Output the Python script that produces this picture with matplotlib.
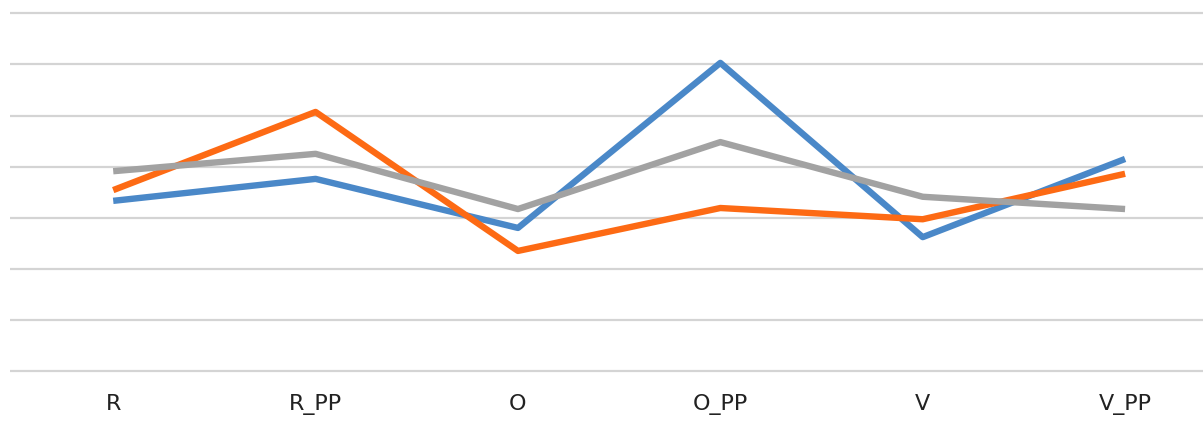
import numpy as np
import matplotlib.pyplot as plt

categories = ['R', 'R_PP', 'O', 'O_PP', 'V', 'V_PP']
blueVals = np.array([3.33, 3.76, 2.80, 6.03, 2.62, 4.15])
orangeVals = np.array([3.54, 5.07, 2.35, 3.19, 2.97, 3.86])
grayVals = np.array([3.91, 4.25, 3.17, 4.48, 3.41, 3.17])
gridLevels = np.arange(0, 8)

fig = plt.figure(figsize=(12.03, 4.21), dpi=100)
ax = fig.add_axes([10 / 1203, 0.1066, 1 - 10 / 1203, 0.9805 - 0.1066])

x = np.arange(len(categories))
ax.plot(x, blueVals, color='#4a88c8', lw=4.6, solid_capstyle='butt', zorder=3)
ax.plot(x, orangeVals, color='#fd6a14', lw=4.6, solid_capstyle='butt', zorder=3)
ax.plot(x, grayVals, color='#a2a2a2', lw=4.6, solid_capstyle='butt', zorder=3)

for g in gridLevels:
    ax.axhline(g, color='#d4d4d4', lw=1.6, zorder=1)

ax.set_xlim(-0.51, 5.385)
ax.set_ylim(-0.1, 7.1)
ax.set_yticks([])
ax.set_xticks(x)
ax.set_xticklabels(categories, fontsize=16, family='DejaVu Sans', color='#222222')
ax.tick_params(axis='x', length=0, pad=13)
for s in ax.spines.values():
    s.set_visible(False)

fig.savefig('out.png', dpi=100)
